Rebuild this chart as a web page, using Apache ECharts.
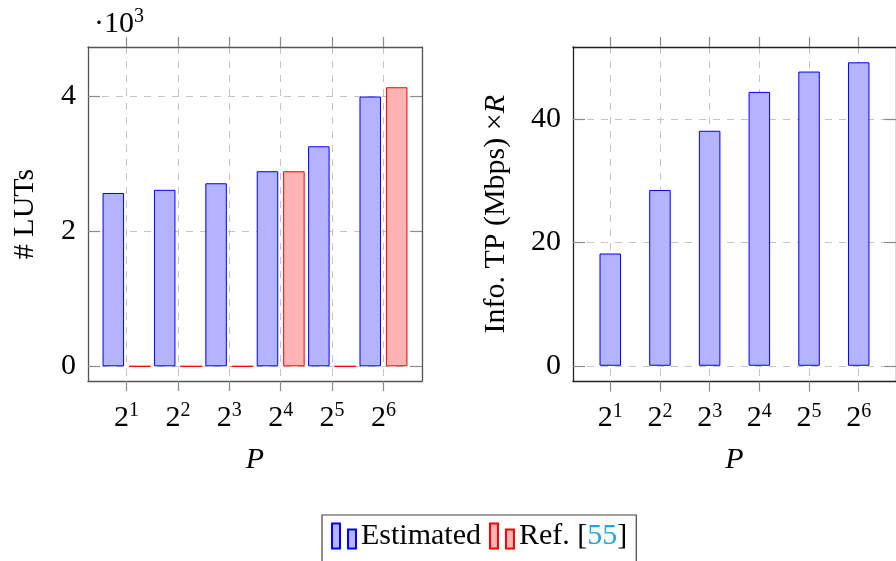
<!DOCTYPE html>
<html><head><meta charset="utf-8">
<script src="https://cdn.jsdelivr.net/npm/echarts@6/dist/echarts.min.js"></script>
<style>html,body{margin:0;padding:0;background:#fff}#c{width:896px;height:561px}</style>
</head><body><div id="c"></div>
<script>
// P = 2^k for k in exponents
const exponents = [1, 2, 3, 4, 5, 6];
const lutEstimated = [2563, 2610, 2707, 2885, 3254, 3990];
const lutRef = [0, 0, 0, 2885, 0, 4127];
const throughput = [18.2, 28.5, 38.1, 44.4, 47.7, 49.2];
const lutTicks = [0, 2000, 4000];
const tpTicks = [0, 20, 40];

const FONT = 'Liberation Serif';
const FS = 30;
const BLUE_FILL = '#b3b3ff', BLUE_EDGE = '#0000ff';
const RED_FILL = '#ffb3b3', RED_EDGE = '#ff0000';
const GRID_LINE = { show: true, lineStyle: { color: '#c4c4c4', type: [7, 7], width: 1 } };

const pair = (vals) => vals.map((v, i) => [exponents[i], v]);

const powRich = {
  b: { fontFamily: FONT, fontSize: FS, color: '#000', verticalAlign: 'bottom', lineHeight: 32 },
  s: { fontFamily: FONT, fontSize: 20, color: '#000', verticalAlign: 'top', lineHeight: 32 }
};

function xAxes(gridIndex, frameColor) {
  const common = {
    type: 'value', gridIndex, min: 0.25, max: 6.75,
    axisLine: { show: true, onZero: false, lineStyle: { color: frameColor, width: 1.3 } },
    axisTick: { show: true, inside: false, length: 10, customValues: exponents,
                lineStyle: { color: '#8c8c8c', width: 1.2 } }
  };
  return [
    Object.assign({}, common, {
      position: 'bottom',
      splitLine: GRID_LINE,
      axisLabel: { customValues: exponents, margin: 20,
        formatter: (v) => '{b|2}{s|' + v + '}', rich: powRich },
      name: 'P', nameLocation: 'middle', nameGap: 64,
      nameTextStyle: { fontFamily: FONT, fontSize: FS, fontStyle: 'italic', color: '#000' }
    }),
    Object.assign({}, common, {
      position: 'top', splitLine: { show: false }, axisLabel: { show: false }
    })
  ];
}

function yAxes(gridIndex, min, max, ticks, fmt, frameColor, name, nameGap, nameRich) {
  const common = {
    type: 'value', gridIndex, min, max,
    axisLine: { show: true, onZero: false, lineStyle: { color: frameColor, width: 1.3 } },
    axisTick: { show: true, inside: true, length: 12, customValues: ticks,
                lineStyle: { color: '#8c8c8c', width: 1.2 } }
  };
  return [
    Object.assign({}, common, {
      position: 'left',
      splitLine: GRID_LINE,
      axisLabel: { customValues: ticks, formatter: fmt, margin: 12,
        fontFamily: FONT, fontSize: FS, color: '#000' },
      name, nameLocation: 'middle', nameGap, nameRotate: 90,
      nameTextStyle: { fontFamily: FONT, fontSize: FS, color: '#000', rich: nameRich }
    }),
    Object.assign({}, common, {
      position: 'right', splitLine: { show: false }, axisLabel: { show: false }
    })
  ];
}

const leftY = yAxes(0, -217, 4722, lutTicks, (v) => String(v / 1000), '#555',
  '# LUTs', 48, {});
const rightY = yAxes(1, -2.55, 51.68, tpTicks, (v) => String(v), '#222',
  '{a|Info. TP (Mbps) ×}{i|R}', 62, {
    a: { fontFamily: FONT, fontSize: FS, color: '#000' },
    i: { fontFamily: FONT, fontSize: FS, color: '#000', fontStyle: 'italic' }
  });

// scale marker (·10^3) above the left plot
const scaleAxis = {
  type: 'value', gridIndex: 0, min: -217, max: 4722, position: 'left', show: true,
  axisLine: { show: false, onZero: false }, axisTick: { show: false }, axisLabel: { show: false },
  splitLine: { show: false },
  name: '{d|·10}{s|3}', nameLocation: 'end', nameGap: 8,
  nameTextStyle: { align: 'left', padding: [0, 0, 0, 6], rich: {
    d: { fontFamily: FONT, fontSize: FS, color: '#000', verticalAlign: 'bottom', lineHeight: 32 },
    s: { fontFamily: FONT, fontSize: 20, color: '#000', verticalAlign: 'top', lineHeight: 32 }
  } }
};

const option = {
  animation: false,
  backgroundColor: '#fff',
  textStyle: { fontFamily: FONT },
  grid: [
    { left: 88, top: 47, width: 334, height: 334, show: false },
    { left: 573, top: 47, width: 335, height: 334.5, show: false }
  ],
  xAxis: [...xAxes(0, '#555'), ...xAxes(1, '#222')],
  yAxis: [...leftY, ...rightY, scaleAxis],
  legend: {
    left: 322, top: 515,
    data: ['Estimated', 'Ref. [55]'],
    icon: 'path://M0,0H8V25H0Z M16,6H24V25H16Z',
    itemWidth: 24, itemHeight: 25, itemGap: 8,
    padding: [6, 9, 20, 9],
    borderColor: '#444', borderWidth: 1.2, borderRadius: 0,
    formatter: (name) => name === 'Ref. [55]' ? '{t|Ref. [}{c|55}{t|]}' : name,
    textStyle: { fontFamily: FONT, fontSize: FS, color: '#000',
      rich: {
        t: { fontFamily: FONT, fontSize: FS, color: '#000' },
        c: { fontFamily: FONT, fontSize: FS, color: '#1aa8e0' }
      } }
  },
  series: [
    { name: 'Estimated', type: 'bar', xAxisIndex: 0, yAxisIndex: 0,
      data: pair(lutEstimated), barWidth: 21.5, barGap: '23%',
      itemStyle: { color: BLUE_FILL, borderColor: BLUE_EDGE, borderWidth: 1 } },
    { name: 'Ref. [55]', type: 'bar', xAxisIndex: 0, yAxisIndex: 0,
      data: pair(lutRef), barWidth: 21.5, barGap: '23%',
      itemStyle: { color: RED_FILL, borderColor: RED_EDGE, borderWidth: 1 } },
    { name: 'Estimated', type: 'bar', xAxisIndex: 2, yAxisIndex: 2,
      data: pair(throughput), barWidth: 21.5,
      itemStyle: { color: BLUE_FILL, borderColor: BLUE_EDGE, borderWidth: 1 } }
  ]
};

const chart = echarts.init(document.getElementById('c'), null, { renderer: 'canvas' });
chart.setOption(option);
</script>
</body></html>
